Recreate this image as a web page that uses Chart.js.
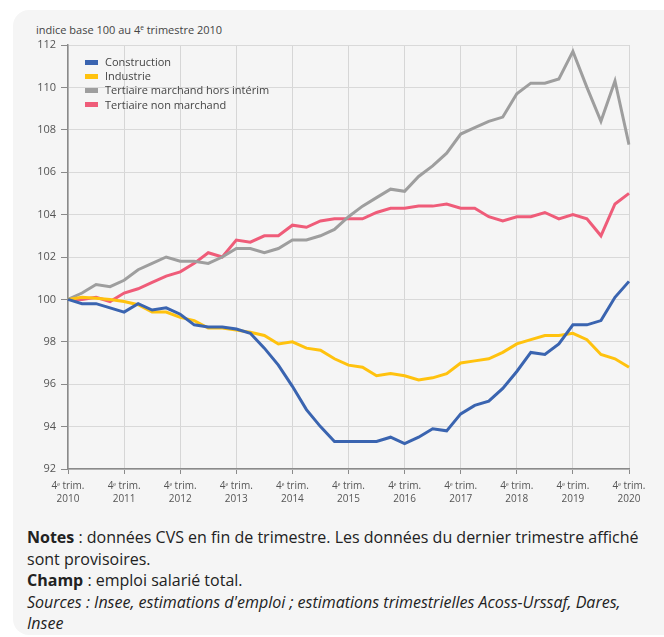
<!DOCTYPE html>
<html>
<head>
<meta charset="utf-8">
<script src="https://cdn.jsdelivr.net/npm/chart.js@4.4.1/dist/chart.umd.min.js"></script>
<style>
  html, body { margin:0; padding:0; background:#ffffff; width:664px; height:637px; overflow:hidden; font-family:'Open Sans', sans-serif; }
  #panel { position:absolute; left:13px; top:10px; width:670px; height:625px; background:#f5f5f5; border-radius:16px; }
  #title { position:absolute; left:36px; top:22px; font-size:11px; color:#444; white-space:nowrap; }
  #title sup { font-size:6.5px; vertical-align:4px; line-height:0; }
  #chart { position:absolute; left:0; top:0; }
  #legend { position:absolute; left:85px; top:55px; font-size:11px; color:#444; }
  #legend .item { height:14.2px; line-height:14.2px; white-space:nowrap; }
  #legend .box { display:inline-block; width:13px; height:5px; margin-right:7px; vertical-align:middle; position:relative; top:-1px; }
  #notes { position:absolute; left:27px; top:527px; width:625px; font-size:16px; line-height:21.5px; color:#222; }
</style>
</head>
<body>
<div id="panel"></div>
<div id="title">indice base 100 au 4<sup>e</sup> trimestre 2010</div>
<canvas id="chart" width="664" height="510"></canvas>
<div id="legend"></div>
<div id="notes">
  <b>Notes</b> : données CVS en fin de trimestre. Les données du dernier trimestre affiché sont provisoires.<br>
  <b>Champ</b> : emploi salarié total.<br>
  <i>Sources : Insee, estimations d'emploi ; estimations trimestrielles Acoss-Urssaf, Dares, Insee</i>
</div>
<script>
const quarters = [
  '2010T4',
  '2011T1','2011T2','2011T3','2011T4',
  '2012T1','2012T2','2012T3','2012T4',
  '2013T1','2013T2','2013T3','2013T4',
  '2014T1','2014T2','2014T3','2014T4',
  '2015T1','2015T2','2015T3','2015T4',
  '2016T1','2016T2','2016T3','2016T4',
  '2017T1','2017T2','2017T3','2017T4',
  '2018T1','2018T2','2018T3','2018T4',
  '2019T1','2019T2','2019T3','2019T4',
  '2020T1','2020T2','2020T3','2020T4'
];
const tickYears = ['2010','2011','2012','2013','2014','2015','2016','2017','2018','2019','2020'];
const tickPrefix = '4ᵉ trim.';
const yTicks = [92, 94, 96, 98, 100, 102, 104, 106, 108, 110, 112];

const construction = [
  100, 99.8, 99.8, 99.6, 99.4, 99.8, 99.5, 99.6, 99.3, 98.8, 98.7, 98.7, 98.6,
  98.4, 97.7, 96.9, 95.9, 94.8, 94.0, 93.3, 93.3, 93.3, 93.3, 93.5, 93.2,
  93.5, 93.9, 93.8, 94.6, 95.0, 95.2, 95.8, 96.6, 97.5, 97.4, 97.9, 98.8,
  98.8, 99.0, 100.1, 100.85
];
const industrie = [
  100, 100.1, 100.05, 100.0, 99.9, 99.75, 99.4, 99.4, 99.15, 99.0, 98.65, 98.65, 98.55,
  98.45, 98.3, 97.9, 98.0, 97.7, 97.6, 97.2, 96.9, 96.8, 96.4, 96.5, 96.4,
  96.2, 96.3, 96.5, 97.0, 97.1, 97.2, 97.5, 97.9, 98.1, 98.3, 98.3, 98.4,
  98.1, 97.4, 97.2, 96.8
];
const tertiaireMarchand = [
  100, 100.3, 100.7, 100.6, 100.9, 101.4, 101.7, 102.0, 101.8, 101.8, 101.7, 102.0, 102.4,
  102.4, 102.2, 102.4, 102.8, 102.8, 103.0, 103.3, 103.9, 104.4, 104.8, 105.2, 105.1,
  105.8, 106.3, 106.9, 107.8, 108.1, 108.4, 108.6, 109.7, 110.2, 110.2, 110.4, 111.7,
  110.0, 108.4, 110.3, 107.3
];
const tertiaireNonMarchand = [
  100, 100.0, 100.1, 99.9, 100.3, 100.5, 100.8, 101.1, 101.3, 101.7, 102.2, 102.0, 102.8,
  102.7, 103.0, 103.0, 103.5, 103.4, 103.7, 103.8, 103.8, 103.8, 104.1, 104.3, 104.3,
  104.4, 104.4, 104.5, 104.3, 104.3, 103.9, 103.7, 103.9, 103.9, 104.1, 103.8, 104.0,
  103.8, 103.0, 104.5, 105.0
];

const seriesNames = ['Construction', 'Industrie', 'Tertiaire marchand hors intérim', 'Tertiaire non marchand'];
const seriesColors = ['#3a64b0', '#ffc20e', '#9e9e9e', '#ef5c79'];
const seriesData = [construction, industrie, tertiaireMarchand, tertiaireNonMarchand];

const datasets = seriesNames.map((name, k) => ({
  label: name,
  data: seriesData[k],
  borderColor: seriesColors[k],
  backgroundColor: seriesColors[k],
  borderWidth: 3,
  pointRadius: 0,
  pointHoverRadius: 0,
  tension: 0,
  fill: false,
  borderJoinStyle: 'miter'
}));

// HTML legend from the datasets
const legendEl = document.getElementById('legend');
seriesNames.forEach((name, k) => {
  const d = document.createElement('div');
  d.className = 'item';
  d.innerHTML = '<span class="box" style="background:' + seriesColors[k] + '"></span>' + name;
  legendEl.appendChild(d);
});

const isYearTick = (i) => i % 4 === 0;

new Chart(document.getElementById('chart'), {
  type: 'line',
  data: { labels: quarters, datasets },
  options: {
    responsive: false,
    animation: false,
    devicePixelRatio: 1,
    layout: { padding: { top: 45, right: 35, left: 0, bottom: 0 } },
    plugins: { legend: { display: false }, tooltip: { enabled: false } },
    scales: {
      x: {
        type: 'category',
        offset: false,
        afterFit: (s) => { s.height = 41; },
        border: { color: '#8a8a8a', width: 1.5 },
        grid: {
          color: (ctx) => (ctx.index !== undefined && isYearTick(ctx.index) ? '#d6d6d6' : 'rgba(0,0,0,0)'),
          tickColor: (ctx) => (ctx.index !== undefined && isYearTick(ctx.index) ? '#8a8a8a' : 'rgba(0,0,0,0)'),
          lineWidth: 1,
          tickLength: 5,
          drawTicks: true
        },
        ticks: {
          autoSkip: false,
          maxRotation: 0,
          minRotation: 0,
          padding: 6,
          color: '#555',
          font: { family: "'Open Sans'", size: 10, lineHeight: 1.3 },
          callback: (v, i) => (isYearTick(i) ? [tickPrefix, tickYears[i / 4]] : '')
        }
      },
      y: {
        min: 92,
        max: 112,
        afterFit: (s) => { s.width = 68; },
        afterBuildTicks: (s) => { s.ticks = yTicks.map(v => ({ value: v })); },
        border: { color: '#8a8a8a', width: 1.5 },
        grid: {
          color: '#d9d9d9',
          tickColor: '#8a8a8a',
          lineWidth: 1,
          tickLength: 7
        },
        ticks: {
          padding: 5,
          color: '#555',
          font: { family: "'Open Sans'", size: 11 }
        }
      }
    }
  }
});
</script>
</body>
</html>
